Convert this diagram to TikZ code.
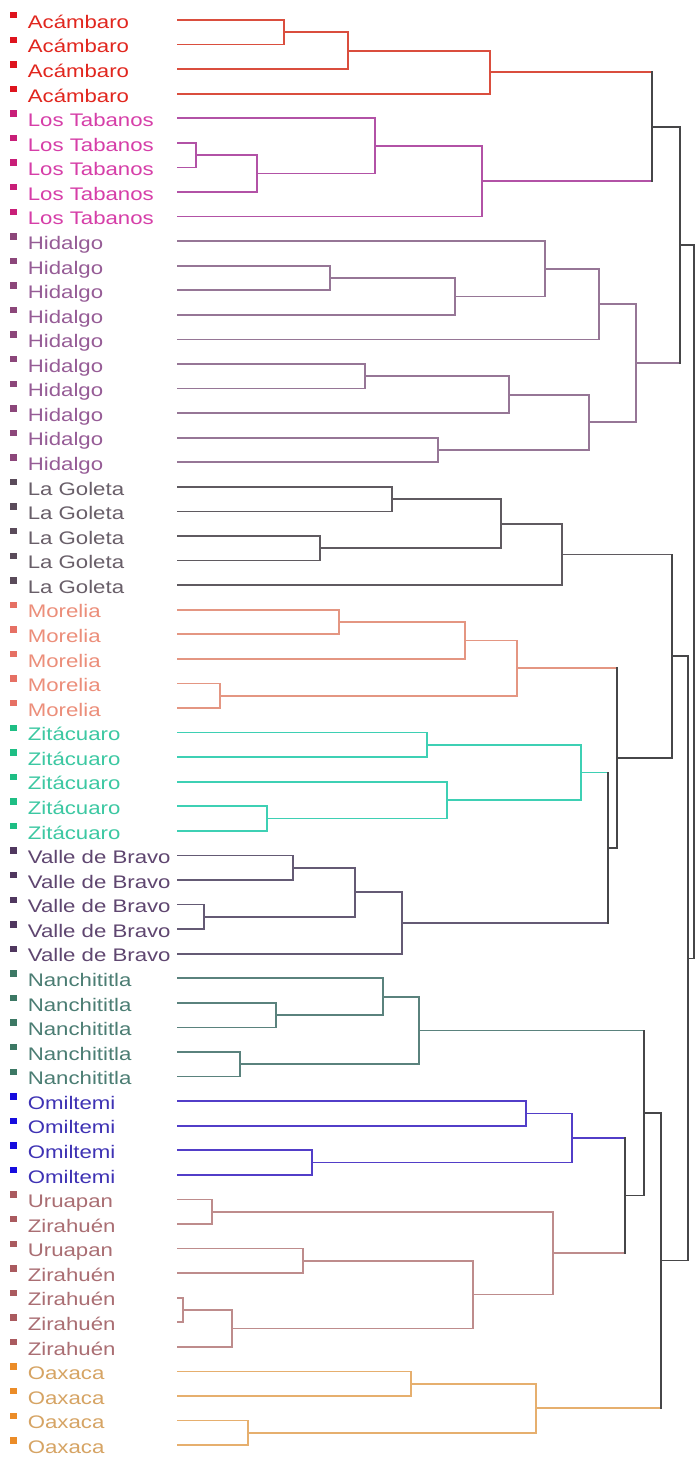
\documentclass[tikz,border=0pt]{standalone}
\usepackage{fontspec}
\setmainfont{Liberation Sans}
\usetikzlibrary{calc}
% colours: t=text, s=square, l=line
\definecolor{tac}{RGB}{225,38,30}\definecolor{sac}{RGB}{222,20,30}\definecolor{lac}{RGB}{218,78,62}
\definecolor{tlt}{RGB}{214,62,168}\definecolor{slt}{RGB}{200,30,120}\definecolor{llt}{RGB}{178,82,166}
\definecolor{thi}{RGB}{150,92,150}\definecolor{shi}{RGB}{140,70,122}\definecolor{lhi}{RGB}{150,118,150}
\definecolor{tlg}{RGB}{105,95,105}\definecolor{slg}{RGB}{90,75,90}\definecolor{llg}{RGB}{95,90,96}
\definecolor{tmo}{RGB}{236,142,122}\definecolor{smo}{RGB}{230,112,100}\definecolor{lmo}{RGB}{228,150,130}
\definecolor{tzi}{RGB}{60,200,162}\definecolor{szi}{RGB}{30,190,132}\definecolor{lzi}{RGB}{62,208,180}
\definecolor{tvb}{RGB}{95,70,112}\definecolor{svb}{RGB}{80,55,95}\definecolor{lvb}{RGB}{100,90,116}
\definecolor{tna}{RGB}{75,125,115}\definecolor{sna}{RGB}{60,120,100}\definecolor{lna}{RGB}{90,130,125}
\definecolor{tom}{RGB}{62,50,180}\definecolor{som}{RGB}{22,12,222}\definecolor{lom}{RGB}{82,62,200}
\definecolor{tuz}{RGB}{170,110,115}\definecolor{suz}{RGB}{170,90,95}\definecolor{luz}{RGB}{190,140,140}
\definecolor{toa}{RGB}{214,164,100}\definecolor{soa}{RGB}{235,140,40}\definecolor{loa}{RGB}{230,175,110}
\definecolor{ldk}{RGB}{70,70,72}
\tikzset{
  lnac/.style={draw=lac},lnlt/.style={draw=llt},lnhi/.style={draw=lhi},lnlg/.style={draw=llg},
  lnmo/.style={draw=lmo},lnzi/.style={draw=lzi},lnvb/.style={draw=lvb},lnna/.style={draw=lna},
  lnom/.style={draw=lom},lnuz/.style={draw=luz},lnoa/.style={draw=loa},lndk/.style={draw=ldk},
  leaflabel/.style={anchor=base west,inner sep=0pt,font=\fontsize{18.2}{20}\selectfont}
}
% \mrg{new}{x}{childA}{colA}{childB}{colB}{colVertical}
\newcommand\mrg[7]{%
  \coordinate (tmpm) at ($(#3)!0.5!(#5)$);
  \coordinate (tmpx) at (#2,0);
  \coordinate (#1) at (tmpm -| tmpx);
  \draw[ln#4] (#3) -- (#3 -| #1);
  \draw[ln#6] (#5) -- (#5 -| #1);
  \draw[ln#7] (#3 -| #1) -- (#5 -| #1);
}
\begin{document}
\begin{tikzpicture}[x=1pt,y=-1pt,line width=1.7pt,line cap=rect]
\useasboundingbox (0,0) rectangle (697,1463);
\fill[white] (0,0) rectangle (697,1463);
\foreach \i/\lab/\g in {0/Acámbaro/ac,1/Acámbaro/ac,2/Acámbaro/ac,3/Acámbaro/ac,
  4/Los Tabanos/lt,5/Los Tabanos/lt,6/Los Tabanos/lt,7/Los Tabanos/lt,8/Los Tabanos/lt,
  9/Hidalgo/hi,10/Hidalgo/hi,11/Hidalgo/hi,12/Hidalgo/hi,13/Hidalgo/hi,14/Hidalgo/hi,15/Hidalgo/hi,16/Hidalgo/hi,17/Hidalgo/hi,18/Hidalgo/hi,
  19/La Goleta/lg,20/La Goleta/lg,21/La Goleta/lg,22/La Goleta/lg,23/La Goleta/lg,
  24/Morelia/mo,25/Morelia/mo,26/Morelia/mo,27/Morelia/mo,28/Morelia/mo,
  29/Zitácuaro/zi,30/Zitácuaro/zi,31/Zitácuaro/zi,32/Zitácuaro/zi,33/Zitácuaro/zi,
  34/Valle de Bravo/vb,35/Valle de Bravo/vb,36/Valle de Bravo/vb,37/Valle de Bravo/vb,38/Valle de Bravo/vb,
  39/Nanchititla/na,40/Nanchititla/na,41/Nanchititla/na,42/Nanchititla/na,43/Nanchititla/na,
  44/Omiltemi/om,45/Omiltemi/om,46/Omiltemi/om,47/Omiltemi/om,
  48/Uruapan/uz,49/Zirahuén/uz,50/Uruapan/uz,51/Zirahuén/uz,52/Zirahuén/uz,53/Zirahuén/uz,54/Zirahuén/uz,
  55/Oaxaca/oa,56/Oaxaca/oa,57/Oaxaca/oa,58/Oaxaca/oa}{
  \pgfmathsetmacro\yy{20+24.57*\i}
  \coordinate (l\i) at (178,\yy);
  \fill[s\g] (9.5,\yy-8) rectangle (16.5,\yy-1.5);
  \node[leaflabel,text=t\g] (t\i) at (27,\yy+8.3) {\scalebox{1.22}[1]{\lab}};
}
% Acambaro
\mrg{a1}{284}{l0}{ac}{l1}{ac}{ac}
\mrg{a2}{348}{a1}{ac}{l2}{ac}{ac}
\mrg{a3}{490}{a2}{ac}{l3}{ac}{ac}
% Los Tabanos
\mrg{b1}{196}{l5}{lt}{l6}{lt}{lt}
\mrg{b2}{257}{b1}{lt}{l7}{lt}{lt}
\mrg{b3}{375}{l4}{lt}{b2}{lt}{lt}
\mrg{b4}{482}{b3}{lt}{l8}{lt}{lt}
\mrg{g1}{652}{a3}{ac}{b4}{lt}{dk}
% Hidalgo
\mrg{h1}{330}{l10}{hi}{l11}{hi}{hi}
\mrg{h2}{455}{h1}{hi}{l12}{hi}{hi}
\mrg{h3}{545}{l9}{hi}{h2}{hi}{hi}
\mrg{h4}{599}{h3}{hi}{l13}{hi}{hi}
\mrg{h5}{365}{l14}{hi}{l15}{hi}{hi}
\mrg{h6}{509}{h5}{hi}{l16}{hi}{hi}
\mrg{h7}{438}{l17}{hi}{l18}{hi}{hi}
\mrg{h8}{589}{h6}{hi}{h7}{hi}{hi}
\mrg{h9}{636}{h4}{hi}{h8}{hi}{hi}
\mrg{g2}{680}{g1}{dk}{h9}{hi}{dk}
% La Goleta
\mrg{c1}{392}{l19}{lg}{l20}{lg}{lg}
\mrg{c2}{320}{l21}{lg}{l22}{lg}{lg}
\mrg{c3}{501}{c1}{lg}{c2}{lg}{lg}
\mrg{c4}{562}{c3}{lg}{l23}{lg}{lg}
% Morelia
\mrg{m1}{339}{l24}{mo}{l25}{mo}{mo}
\mrg{m2}{465}{m1}{mo}{l26}{mo}{mo}
\mrg{m3}{220}{l27}{mo}{l28}{mo}{mo}
\mrg{m4}{517}{m2}{mo}{m3}{mo}{mo}
% Zitacuaro
\mrg{z1}{427}{l29}{zi}{l30}{zi}{zi}
\mrg{z2}{267}{l32}{zi}{l33}{zi}{zi}
\mrg{z3}{447}{l31}{zi}{z2}{zi}{zi}
\mrg{z4}{581}{z1}{zi}{z3}{zi}{zi}
% Valle de Bravo
\mrg{v1}{293}{l34}{vb}{l35}{vb}{vb}
\mrg{v2}{204}{l36}{vb}{l37}{vb}{vb}
\mrg{v3}{355}{v1}{vb}{v2}{vb}{vb}
\mrg{v4}{402}{v3}{vb}{l38}{vb}{vb}
\mrg{g3}{608}{z4}{zi}{v4}{vb}{dk}
\mrg{g4}{617}{m4}{mo}{g3}{dk}{dk}
\mrg{g5}{672}{c4}{lg}{g4}{dk}{dk}
% Nanchititla
\mrg{n1}{276}{l40}{na}{l41}{na}{na}
\mrg{n2}{383}{l39}{na}{n1}{na}{na}
\mrg{n3}{240}{l42}{na}{l43}{na}{na}
\mrg{n4}{419}{n2}{na}{n3}{na}{na}
% Omiltemi
\mrg{o1}{526}{l44}{om}{l45}{om}{om}
\mrg{o2}{312}{l46}{om}{l47}{om}{om}
\mrg{o3}{572}{o1}{om}{o2}{om}{om}
% Uruapan / Zirahuen
\mrg{u1}{212}{l48}{uz}{l49}{uz}{uz}
\mrg{u2}{303}{l50}{uz}{l51}{uz}{uz}
\mrg{u3}{183}{l52}{uz}{l53}{uz}{uz}
\mrg{u4}{232}{u3}{uz}{l54}{uz}{uz}
\mrg{u5}{473}{u2}{uz}{u4}{uz}{uz}
\mrg{u6}{553}{u1}{uz}{u5}{uz}{uz}
\mrg{g6}{625}{o3}{om}{u6}{uz}{dk}
\mrg{g7}{644}{n4}{na}{g6}{dk}{dk}
% Oaxaca
\mrg{x1}{411}{l55}{oa}{l56}{oa}{oa}
\mrg{x2}{248}{l57}{oa}{l58}{oa}{oa}
\mrg{x3}{536}{x1}{oa}{x2}{oa}{oa}
\mrg{g8}{661}{g7}{dk}{x3}{oa}{dk}
% top levels
\mrg{g9}{688}{g5}{dk}{g8}{dk}{dk}
\mrg{g10}{694}{g2}{dk}{g9}{dk}{dk}
\end{tikzpicture}
\end{document}
